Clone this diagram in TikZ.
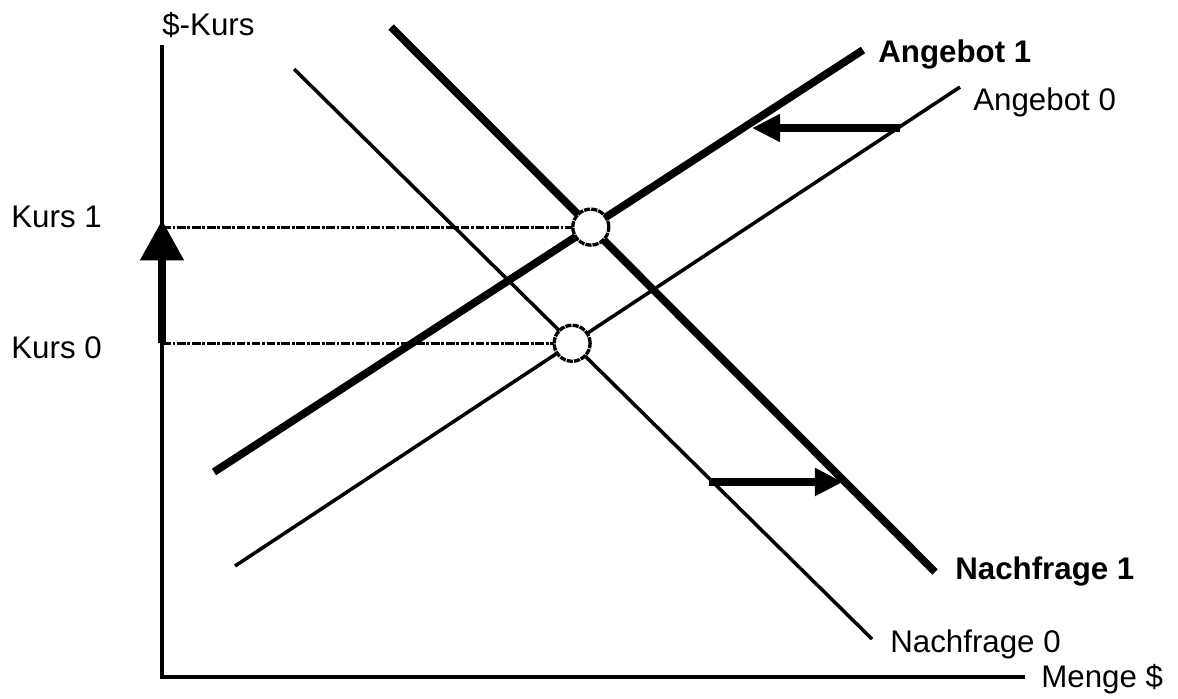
\documentclass[tikz,border=0pt]{standalone}
\usepackage{fontspec}
\setmainfont{Liberation Sans}
\usetikzlibrary{arrows.meta}
\begin{document}
\begin{tikzpicture}[x=0.02cm,y=-0.02cm,
  every node/.style={font=\fontsize{17.8}{20}\selectfont,inner sep=0pt,anchor=base west},
  axisline/.style={line width=2pt},
  thinline/.style={line width=2pt},
  thickline/.style={line width=4.4pt},
  guide/.style={line width=1.6pt,dash pattern=on 5pt off 1pt on 1.5pt off 1pt},
  eqpoint/.style={circle,draw,fill=white,line width=1.9pt,dash pattern=on 3.5pt off 0.6pt,minimum size=0.72cm,anchor=center},
  shiftarrow/.style={line width=4pt,-{Triangle[length=16pt,width=15pt]}},
  kursarrow/.style={line width=4.5pt,-{Triangle[length=23pt,width=24pt]}}]
\useasboundingbox (0,0) rectangle (1178,698);
% axes
\coordinate (O) at (162,677);
\coordinate (ytop) at (162,45);
\coordinate (xend) at (1025,677);
% edit here for the curves
\coordinate (a0s) at (235,566); \coordinate (a0e) at (960,87);
\coordinate (a1s) at (214,472); \coordinate (a1e) at (863,50);
\coordinate (n0s) at (294,69);  \coordinate (n0e) at (872,639);
\coordinate (n1s) at (391,27);  \coordinate (n1e) at (935,572);
\draw[thinline] (a0s) -- (a0e);
\draw[thinline] (n0s) -- (n0e);
\draw[thickline] (a1s) -- (a1e);
\draw[thickline] (n1s) -- (n1e);
% equilibria
\coordinate (eq0) at (intersection of a0s--a0e and n0s--n0e);
\coordinate (eq1) at (intersection of a1s--a1e and n1s--n1e);
\coordinate (k0) at (eq0 -| O);
\coordinate (k1) at (eq1 -| O);
\foreach \p in {0,1}
\draw[guide] (k\p) -- (eq\p);
\draw[axisline] (ytop) -- (O) -- (xend);
\node[eqpoint] (c0) at (eq0) {};
\node[eqpoint] (c1) at (eq1) {};
% shifts
\draw[kursarrow] (k0) -- ([yshift=4pt]k1);
\coordinate (sa) at (900,128); \coordinate (sb) at (752,128);
\draw[shiftarrow] (sa) -- (sb);
\coordinate (da) at (709,482); \coordinate (db) at (843,482);
\draw[shiftarrow] (da) -- (db);
% labels
\node (ylab) at (162,35) {\$-Kurs};
\node (xlab) at (1041,687) {Menge \$};
\node (kurs1) at (11,227) {Kurs 1};
\node (kurs0) at (11,358) {Kurs 0};
\node[font=\fontsize{17.8}{20}\selectfont\bfseries] (ang1) at (878,62) {Angebot 1};
\node (ang0) at (973,110) {Angebot 0};
\node[font=\fontsize{17.8}{20}\selectfont\bfseries] (nach1) at (955,579) {Nachfrage 1};
\node (nach0) at (890,652) {Nachfrage 0};
\end{tikzpicture}
\end{document}
